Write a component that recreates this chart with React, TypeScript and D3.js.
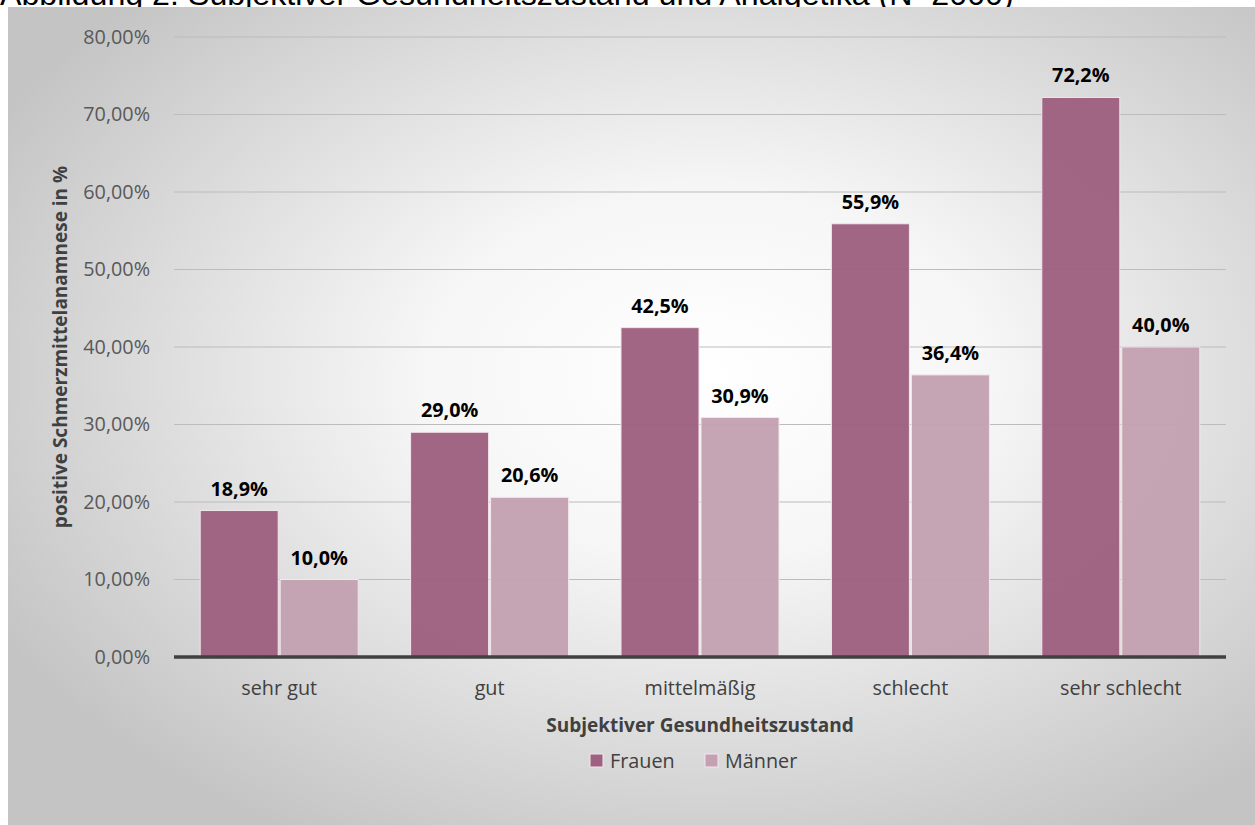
import React from "react";
import * as d3 from "d3";

const categories = ["sehr gut", "gut", "mittelmäßig", "schlecht", "sehr schlecht"];
const seriesNames = ["Frauen", "Männer"];
const frauen = [18.9, 29.0, 42.5, 55.9, 72.2];
const maenner = [10.0, 20.6, 30.9, 36.4, 40.0];
const yTicks = [0, 10, 20, 30, 40, 50, 60, 70, 80];
const colors = ["#9e6180", "#c3a1b1"];

const W = 1255;
const H = 825;
const font = "'Open Sans', Calibri, sans-serif";
const fs = 19.8;

export default function App() {
  const x = d3.scaleBand().domain(categories).range([174, 1226]).paddingInner(0).paddingOuter(0);
  const y = d3.scaleLinear().domain([0, 80]).range([657, 37]);
  const barW = 78;
  const gap = 2;
  const series = [frauen, maenner];
  const fmtTick = (v: number) => v.toFixed(2).replace(".", ",") + "%";
  const fmtLab = (v: number) => v.toFixed(1).replace(".", ",") + "%";

  return (
    <svg width={W} height={H} style={{ position: "absolute", left: 0, top: 0 }}>
      <defs>
        <radialGradient id="bg" cx="56%" cy="45%" r="65%">
          <stop offset="0%" stopColor="#ffffff" />
          <stop offset="35%" stopColor="#f6f6f6" />
          <stop offset="100%" stopColor="#c4c4c4" />
        </radialGradient>
      </defs>
      <rect x={0} y={0} width={W} height={H} fill="#ffffff" />
      <text x={0} y={5} fontFamily="'Liberation Sans', Arial, sans-serif" fontSize={32.2} fill="#000">
        Abbildung 2: Subjektiver Gesundheitszustand und Analgetika (N=2000)
      </text>
      <rect x={8} y={7} width={W - 8} height={H - 7} fill="url(#bg)" />
      {yTicks.map((t) => (
        <g key={t}>
          {t > 0 && (
            <line x1={174} x2={1226} y1={y(t)} y2={y(t)} stroke="#bcbcbc" strokeWidth={1.2} />
          )}
          <text x={150} y={y(t)} dy="0.35em" textAnchor="end" fontFamily={font} fontSize={fs} fill="#595959">
            {fmtTick(t)}
          </text>
        </g>
      ))}
      {categories.map((c, i) => {
        const cx = (x(c) as number) + x.bandwidth() / 2;
        return (
          <g key={c}>
            {series.map((s, j) => {
              const bx = j === 0 ? cx - gap / 2 - barW : cx + gap / 2;
              return (
                <g key={j}>
                  <rect
                    x={bx}
                    y={y(s[i])}
                    width={barW}
                    height={y(0) - y(s[i])}
                    fill={colors[j]}
                    fillOpacity={0.97}
                    stroke="#f3e6ec"
                    strokeWidth={1}
                  />
                  <text
                    x={bx + barW / 2}
                    y={y(s[i]) - 15}
                    textAnchor="middle"
                    fontFamily={font}
                    fontWeight="bold"
                    fontSize={fs}
                    fill="#000"
                  >
                    {fmtLab(s[i])}
                  </text>
                </g>
              );
            })}
            <text x={cx} y={695} textAnchor="middle" fontFamily={font} fontSize={fs} fill="#404040">
              {c}
            </text>
          </g>
        );
      })}
      <line x1={174} x2={1226} y1={y(0)} y2={y(0)} stroke="#404040" strokeWidth={3.5} />
      <text x={700} y={732} textAnchor="middle" fontFamily={font} fontWeight="bold" fontSize={19} fill="#404040">
        Subjektiver Gesundheitszustand
      </text>
      <text
        transform={`translate(67,347) rotate(-90)`}
        textAnchor="middle"
        fontFamily={font}
        fontWeight="bold"
        fontSize={19}
        fill="#404040"
      >
        positive Schmerzmittelanamnese in %
      </text>
      {seriesNames.map((n, j) => {
        const lx = j === 0 ? 590 : 705;
        return (
          <g key={n}>
            <rect x={lx} y={754} width={13} height={13} fill={colors[j]} stroke="#f3e6ec" strokeWidth={1} />
            <text x={lx + 20} y={761} dy="0.35em" fontFamily={font} fontSize={fs} fill="#404040">
              {n}
            </text>
          </g>
        );
      })}
    </svg>
  );
}
